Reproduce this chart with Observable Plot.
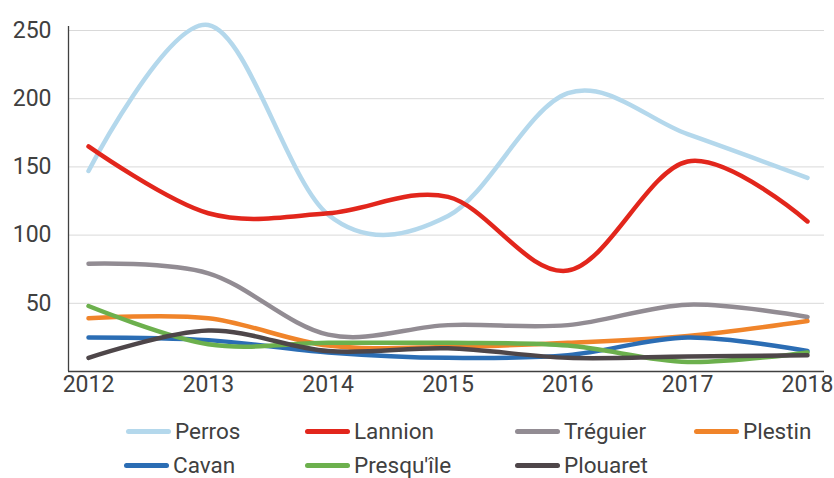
<!DOCTYPE html>
<html>
<head>
<meta charset="utf-8">
<script src="https://cdn.jsdelivr.net/npm/d3@7"></script>
<script src="https://cdn.jsdelivr.net/npm/@observablehq/plot@0.6"></script>
<style>
  html, body { margin: 0; padding: 0; background: #fff; }
  body { width: 834px; height: 478px; overflow: hidden; font-family: Roboto, "Noto Sans", sans-serif; }
  #legend { position: relative; width: 834px; height: 78px; }
  .item { position: absolute; display: flex; align-items: center; font-size: 22.5px; line-height: 22px; color: #404040; }
  .sw { width: 45px; height: 5px; border-radius: 2.5px; margin-right: 4px; }
</style>
</head>
<body>
<div id="chart"></div>
<div id="legend"></div>
<script>
const years = [2012, 2013, 2014, 2015, 2016, 2017, 2018];
const yTicks = [50, 100, 150, 200, 250];
const seriesNames = ["Perros", "Lannion", "Tréguier", "Plestin", "Cavan", "Presqu'île", "Plouaret"];
const seriesColors = ["#b4d8ec", "#e2261c", "#928c93", "#f0842a", "#2b6db4", "#6cb04d", "#4e4649"];
const perros    = [147, 254, 115, 114, 204, 174, 142];
const lannion   = [165, 116, 116, 128, 74, 154, 110];
const treguier  = [79, 72, 27, 34, 34, 49, 40];
const plestin   = [39, 39, 19, 18, 21, 26, 37];
const cavan     = [25, 23, 14, 10, 12, 25, 15];
const presquile = [48, 20, 21, 21, 19, 7, 14];
const plouaret  = [10, 30, 15, 17, 10, 11, 12];
const seriesValues = [perros, lannion, treguier, plestin, cavan, presquile, plouaret];

const rows = [];
seriesNames.forEach((name, i) => {
  years.forEach((yr, j) => rows.push({series: name, year: yr, value: seriesValues[i][j]}));
});

const xMin = 2011.833, xMax = 2018.142;
const txt = "#404040";

const chart = Plot.plot({
  width: 834,
  height: 400,
  marginLeft: 68,
  marginRight: 10,
  marginTop: 30,
  marginBottom: 29,
  style: {fontFamily: "Roboto, 'Noto Sans', sans-serif", color: txt, background: "#fff"},
  x: {domain: [xMin, xMax]},
  y: {domain: [0, 250]},
  color: {domain: seriesNames, range: seriesColors},
  marks: [
    Plot.gridY(yTicks, {stroke: "#d9d9d9", strokeOpacity: 1, strokeWidth: 1}),
    Plot.axisY(yTicks, {tickSize: 0, tickPadding: 17, fontSize: 23, fill: txt, label: null}),
    Plot.axisX(years, {tickSize: 0, tickPadding: 4, fontSize: 23, fill: txt, label: null, tickFormat: d => String(d)}),
    Plot.line(rows, {x: "year", y: "value", z: "series", stroke: "series", strokeWidth: 4.5, curve: "cardinal", strokeLinecap: "round"}),
    Plot.ruleY([0], {stroke: "#404040", strokeWidth: 1.3}),
    Plot.ruleX([xMin], {y1: 0, y2: 253, stroke: "#404040", strokeWidth: 1.3, clip: false})
  ]
});
document.getElementById("chart").appendChild(chart);

const legendPos = [
  [126, 431], [305, 431], [515, 431], [694, 431],
  [124, 465], [305, 465], [515, 465]
];
const legend = document.getElementById("legend");
seriesNames.forEach((name, i) => {
  const it = document.createElement("div");
  it.className = "item";
  it.style.left = legendPos[i][0] + "px";
  it.style.top = (legendPos[i][1] - 400 - 11) + "px";
  it.style.height = "22px";
  const sw = document.createElement("div");
  sw.className = "sw";
  sw.style.background = seriesColors[i];
  const t = document.createElement("span");
  t.textContent = name;
  it.appendChild(sw);
  it.appendChild(t);
  legend.appendChild(it);
});
</script>
</body>
</html>
